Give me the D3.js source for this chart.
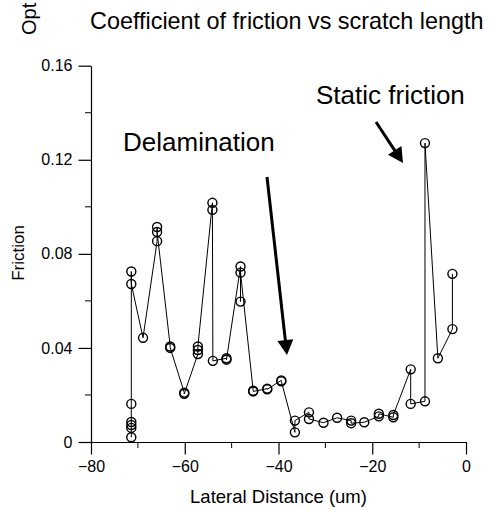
<!DOCTYPE html>
<html><head><meta charset="utf-8">
<script src="https://cdn.jsdelivr.net/npm/d3@7"></script>
<style>html,body{margin:0;padding:0;background:#fff}svg{display:block}text{font-family:"Liberation Sans",Arial,sans-serif;fill:#000}</style>
</head><body>
<svg id="c" width="491" height="510"></svg>
<script>
const lateralDistance = [-71.4,-71.4,-71.4,-71.4,-71.4,-71.4,-71.4,-68.9,-65.9,-65.9,-65.9,-63.1,-63.1,-60.1,-60.1,-57.2,-57.2,-57.2,-54.1,-54.1,-54.0,-51.1,-51.1,-48.1,-48.1,-48.1,-45.4,-45.4,-42.4,-42.4,-39.4,-39.4,-36.5,-36.5,-33.5,-33.5,-30.4,-27.5,-24.5,-24.5,-21.7,-18.6,-18.6,-15.5,-15.5,-11.8,-11.8,-8.75,-8.75,-6.0,-2.9,-2.9];
const friction = [0.0020,0.0060,0.0072,0.0085,0.0162,0.0725,0.0672,0.0443,0.0854,0.0914,0.0893,0.0406,0.0400,0.0210,0.0205,0.0374,0.0391,0.0406,0.1017,0.0987,0.0345,0.0356,0.0350,0.0746,0.0597,0.0720,0.0218,0.0215,0.0227,0.0224,0.0262,0.0258,0.0041,0.0091,0.0126,0.0098,0.0082,0.0103,0.0091,0.0080,0.0084,0.0109,0.0120,0.0105,0.0115,0.0309,0.0162,0.0173,0.1271,0.0356,0.0480,0.0715];
const xTicks = [-80,-60,-40,-20,0];
const xMinorTicks = [-70,-50,-30,-10];
const yTicks = [0,0.04,0.08,0.12,0.16];
const yMinorTicks = [0.02,0.06,0.10,0.14];
const yTickLabels = ["0","0.04","0.08","0.12","0.16"];
const titleText = "Coefficient of friction vs scratch length";
const xTitle = "Lateral Distance (um)";
const yTitle = "Friction";
const cornerText = "Opt";
const annotations = [
  {text:"Static friction", x:316, y:104, from:[376,122], to:[403,163]},
  {text:"Delamination", x:123, y:151, from:[267,177], to:[287,355]}
];

const svg = d3.select("#c");
const x = d3.scaleLinear().domain([-80,0]).range([91,466]);
const y = d3.scaleLinear().domain([0,0.16]).range([442,65.7]);
const data = lateralDistance.map((d,i)=>({x:d,y:friction[i]}));

// axes
const xAxis = svg.append("g").attr("transform",`translate(0,${y(0)})`);
xAxis.call(d3.axisBottom(x).tickValues(xTicks).tickSize(12.5).tickSizeOuter(0).tickPadding(6).tickFormat(d3.format("d")));
xAxis.append("g").selectAll("line").data(xMinorTicks).join("line")
  .attr("x1",d=>x(d)).attr("x2",d=>x(d)).attr("y1",0).attr("y2",6).attr("stroke","#000");
const yAxis = svg.append("g").attr("transform",`translate(${x(-80)},0)`);
yAxis.call(d3.axisLeft(y).tickValues(yTicks).tickSize(12.5).tickSizeOuter(0).tickPadding(6).tickFormat((d,i)=>yTickLabels[i]));
yAxis.append("g").selectAll("line").data(yMinorTicks).join("line")
  .attr("x1",0).attr("x2",-6).attr("y1",d=>y(d)).attr("y2",d=>y(d)).attr("stroke","#000");
svg.selectAll(".domain").attr("stroke","#000").attr("stroke-width",1.2);
svg.selectAll(".tick line").attr("stroke","#000").attr("stroke-width",1.2);
svg.selectAll(".tick text").attr("font-size",16).attr("font-family","Liberation Sans, Arial, sans-serif").attr("fill","#000");

// line + markers
svg.append("path").datum(data)
  .attr("d",d3.line().x(d=>x(d.x)).y(d=>y(d.y)))
  .attr("fill","none").attr("stroke","#000").attr("stroke-width",1);
svg.append("g").selectAll("circle").data(data).join("circle")
  .attr("cx",d=>x(d.x)).attr("cy",d=>y(d.y)).attr("r",4.5)
  .attr("fill","none").attr("stroke","#000").attr("stroke-width",1.4);

// titles
svg.append("text").attr("x",90).attr("y",29).attr("font-size",23.4).text(titleText);
svg.append("text").attr("x",(91+466)/2).attr("y",503).attr("text-anchor","middle").attr("font-size",18.5).text(xTitle);
svg.append("text").attr("transform",`translate(24,253) rotate(-90)`).attr("text-anchor","middle").attr("font-size",17).text(yTitle);
svg.append("text").attr("transform",`translate(36,35) rotate(-90)`).attr("font-size",20).text(cornerText);

// annotations
annotations.forEach(a=>{
  svg.append("text").attr("x",a.x).attr("y",a.y).attr("font-size",26).text(a.text);
  const [x0,y0]=a.from,[x1,y1]=a.to;
  const dx=x1-x0, dy=y1-y0, L=Math.hypot(dx,dy), ux=dx/L, uy=dy/L;
  const hl=15, hw=8;
  const bx=x1-ux*hl, by=y1-uy*hl;
  svg.append("line").attr("x1",x0).attr("y1",y0).attr("x2",bx+ux*2).attr("y2",by+uy*2)
    .attr("stroke","#000").attr("stroke-width",3);
  svg.append("path").attr("d",`M${x1},${y1}L${bx-uy*hw},${by+ux*hw}L${bx+uy*hw},${by-ux*hw}Z`).attr("fill","#000");
});
</script>
</body></html>
